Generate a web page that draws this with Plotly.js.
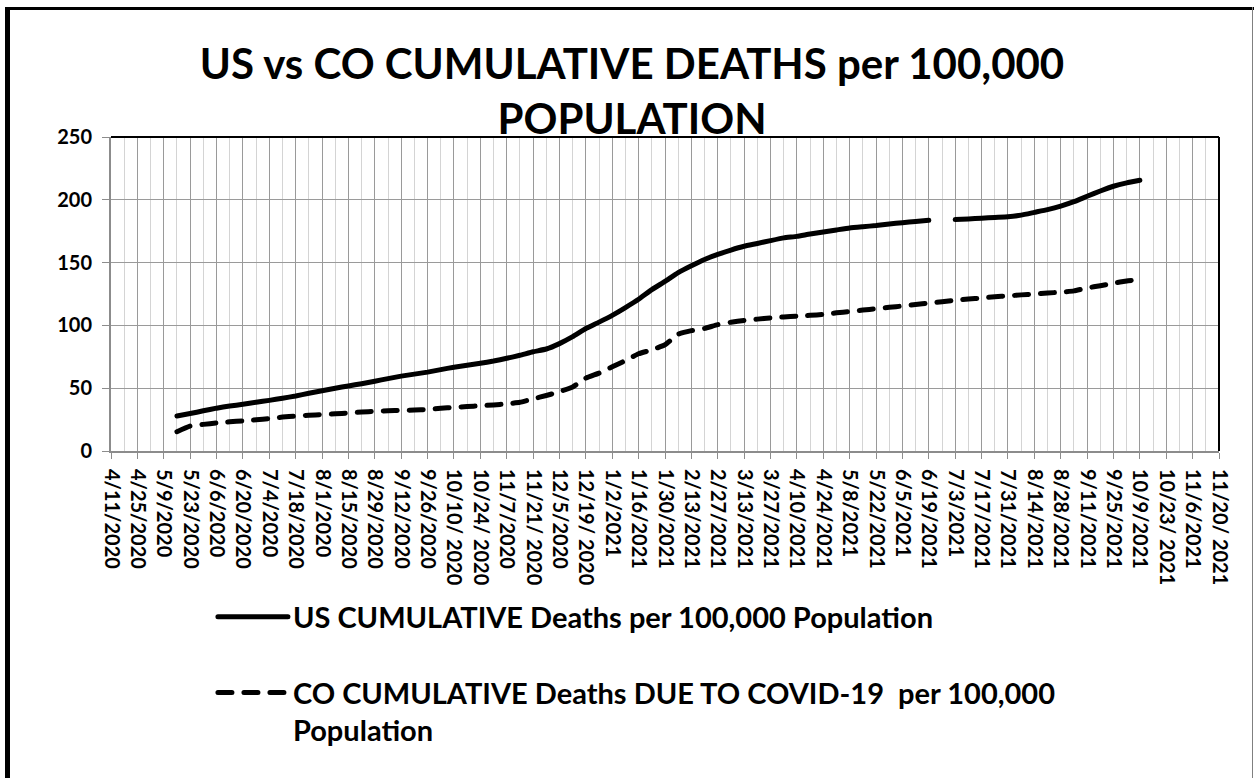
<!DOCTYPE html>
<html>
<head>
<meta charset="utf-8">
<script src="https://cdn.plot.ly/plotly-3.0.1.min.js"></script>
<style>
  html, body { margin: 0; padding: 0; background: #ffffff; overflow: hidden; }
  #wrap { position: relative; width: 1255px; height: 778px; }
  #chart { position: absolute; left: 0; top: 0; width: 1255px; height: 778px; }
  .frame { position: absolute; pointer-events: none; }
</style>
</head>
<body>
<div id="wrap">
  <div id="chart"></div>
  <div class="frame" style="left:5px; top:7px; width:5px; height:771px; background:#000;"></div>
  <div class="frame" style="left:5px; top:7px; width:1249px; height:3px; background:#000;"></div>
  <div class="frame" style="left:1252px; top:7px; width:1px; height:771px; background:#808080;"></div>
</div>
<script>
// ---- DATA ----
const usDates = [
  "2020-05-16","2020-05-23","2020-05-30","2020-06-06","2020-06-13","2020-06-20","2020-06-27",
  "2020-07-04","2020-07-11","2020-07-18","2020-07-25","2020-08-01","2020-08-08","2020-08-15",
  "2020-08-22","2020-08-29","2020-09-05","2020-09-12","2020-09-19","2020-09-26","2020-10-03",
  "2020-10-10","2020-10-17","2020-10-24","2020-10-31","2020-11-07","2020-11-14","2020-11-21",
  "2020-11-28","2020-12-05","2020-12-12","2020-12-19","2020-12-26","2021-01-02","2021-01-09",
  "2021-01-16","2021-01-23","2021-01-30","2021-02-06","2021-02-13","2021-02-20","2021-02-27",
  "2021-03-06","2021-03-13","2021-03-20","2021-03-27","2021-04-03","2021-04-10","2021-04-17",
  "2021-04-24","2021-05-01","2021-05-08","2021-05-15","2021-05-22","2021-05-29","2021-06-05",
  "2021-06-12","2021-06-19","2021-06-26","2021-07-03","2021-07-10","2021-07-17","2021-07-24",
  "2021-07-31","2021-08-07","2021-08-14","2021-08-21","2021-08-28","2021-09-04","2021-09-11",
  "2021-09-18","2021-09-25","2021-10-02","2021-10-09"
];
const usValues = [
  27.8, 29.8, 32.0, 34.1, 35.8, 37.2, 38.8,
  40.3, 42.0, 43.8, 46.0, 48.0, 50.0, 51.8,
  53.6, 55.6, 57.6, 59.6, 61.2, 62.8, 64.8,
  66.7, 68.2, 69.8, 71.6, 73.8, 76.2, 79.0,
  81.2, 85.5, 91.0, 97.5, 102.6, 108.0, 114.2,
  120.8, 128.5, 135.0, 142.0, 147.5, 152.5, 156.5,
  160.0, 163.0, 165.2, 167.5, 169.7, 170.9, 172.8,
  174.4, 176.0, 177.6, 178.6, 179.5, 180.8, 181.8,
  182.8, 183.7, null, 184.3, 184.8, 185.4, 186.0,
  186.5, 187.8, 190.0, 192.2, 195.0, 198.5, 202.8,
  207.0, 210.8, 213.5, 215.6
];
const coDates = [
  "2020-05-16","2020-05-23","2020-05-30","2020-06-06","2020-06-13","2020-06-20","2020-06-27",
  "2020-07-04","2020-07-11","2020-07-18","2020-07-25","2020-08-01","2020-08-08","2020-08-15",
  "2020-08-22","2020-08-29","2020-09-05","2020-09-12","2020-09-19","2020-09-26","2020-10-03",
  "2020-10-10","2020-10-17","2020-10-24","2020-10-31","2020-11-07","2020-11-14","2020-11-21",
  "2020-11-28","2020-12-05","2020-12-12","2020-12-19","2020-12-26","2021-01-02","2021-01-09",
  "2021-01-16","2021-01-23","2021-01-30","2021-02-06","2021-02-13","2021-02-20","2021-02-27",
  "2021-03-06","2021-03-13","2021-03-20","2021-03-27","2021-04-03","2021-04-10","2021-04-17",
  "2021-04-24","2021-05-01","2021-05-08","2021-05-15","2021-05-22","2021-05-29","2021-06-05",
  "2021-06-12","2021-06-19","2021-06-26","2021-07-03","2021-07-10","2021-07-17","2021-07-24",
  "2021-07-31","2021-08-07","2021-08-14","2021-08-21","2021-08-28","2021-09-04","2021-09-11",
  "2021-09-18","2021-09-25","2021-10-02","2021-10-05"
];
const coValues = [
  15.4, 19.9, 21.2, 22.3, 23.2, 24.0, 24.8,
  25.8, 27.0, 27.8, 28.5, 29.0, 29.6, 30.3,
  31.0, 31.6, 32.0, 32.3, 32.6, 33.0, 34.0,
  34.8, 35.4, 36.0, 36.7, 37.5, 38.8, 41.5,
  44.2, 47.2, 51.0, 58.0, 62.0, 67.0, 72.0,
  77.4, 80.5, 84.6, 93.0, 95.8, 97.6, 100.6,
  102.5, 104.0, 105.0, 106.0, 106.7, 107.4, 108.0,
  108.7, 110.0, 111.1, 112.2, 113.3, 114.4, 115.4,
  116.6, 117.8, 118.8, 120.0, 121.0, 121.8, 122.8,
  123.5, 124.3, 125.0, 125.8, 126.4, 127.5, 129.8,
  131.6, 133.6, 135.4, 135.9
];
const xTickLabels = [
  "4/11/2020","4/25/2020","5/9/2020","5/23/2020","6/6/2020","6/20/2020","7/4/2020",
  "7/18/2020","8/1/2020","8/15/2020","8/29/2020","9/12/2020","9/26/2020","10/10/ 2020",
  "10/24/ 2020","11/7/2020","11/21/ 2020","12/5/2020","12/19/ 2020","1/2/2021","1/16/2021",
  "1/30/2021","2/13/2021","2/27/2021","3/13/2021","3/27/2021","4/10/2021","4/24/2021",
  "5/8/2021","5/22/2021","6/5/2021","6/19/2021","7/3/2021","7/17/2021","7/31/2021",
  "8/14/2021","8/28/2021","9/11/2021","9/25/2021","10/9/2021","10/23/ 2021","11/6/2021",
  "11/20/ 2021"
];
const yTicks = [0, 50, 100, 150, 200, 250];
const seriesNames = [
  "US CUMULATIVE Deaths per 100,000 Population",
  "CO CUMULATIVE Deaths DUE TO COVID-19  per 100,000<br>Population"
];
const chartTitle = "US vs CO CUMULATIVE DEATHS per 100,000<br>POPULATION";

// ---- helpers ----
function labelToISO(lbl) {
  const p = lbl.replace(/\s/g, "").split("/");
  const mm = p[0].padStart(2, "0"), dd = p[1].padStart(2, "0");
  return p[2] + "-" + mm + "-" + dd;
}
const xTickVals = xTickLabels.map(labelToISO);

const FONT = "Lato, 'Open Sans', sans-serif";

const traces = [
  {
    type: "scatter", mode: "lines",
    x: usDates, y: usValues,
    name: seriesNames[0], legendgroup: "us",
    line: { color: "#000000", width: 5, shape: "spline", smoothing: 0.4 },
    connectgaps: false,
    hoverinfo: "x+y"
  },
  {
    type: "scatter", mode: "lines",
    x: coDates, y: coValues,
    name: seriesNames[1], legendgroup: "co",
    line: { color: "#000000", width: 5, dash: "14px,12px", shape: "spline", smoothing: 0.4 },
    hoverinfo: "x+y"
  }
];

const layout = {
  width: 1255, height: 778,
  paper_bgcolor: "#ffffff", plot_bgcolor: "#ffffff",
  margin: { l: 111, r: 36, t: 137, b: 327, pad: 0 },
  font: { family: FONT, color: "#000000" },
  title: {
    text: chartTitle,
    font: { family: FONT, size: 42, color: "#000000", weight: 700 },
    x: 632 / 1255, xanchor: "center", xref: "container",
    y: 1 - 79 / 778, yanchor: "top", yref: "container",
    automargin: false
  },
  showlegend: true,
  legend: {
    orientation: "v",
    x: 0.092, xanchor: "left",
    y: -0.447, yanchor: "top",
    font: { family: FONT, size: 29, color: "#000000", weight: 700 },
    bgcolor: "rgba(0,0,0,0)",
    tracegroupgap: 35,
    valign: "top",
    itemwidth: 70,
    traceorder: "grouped"
  },
  xaxis: {
    type: "date",
    range: ["2020-04-11", "2021-11-20"],
    tickmode: "array",
    tickvals: xTickVals,
    ticktext: xTickLabels,
    tickangle: 90,
    tickfont: { family: FONT, size: 20, color: "#000000", weight: 700 },
    ticks: "outside", ticklen: 6, tickcolor: "#8c8c8c", tickwidth: 1,
    ticklabelstandoff: 6,
    showgrid: true, gridcolor: "#9a9a9a", gridwidth: 1,
    minor: {
      tickmode: "linear",
      tick0: "2020-04-18",
      dtick: 7 * 86400000,
      showgrid: true, gridcolor: "#d4d4d4", gridwidth: 1,
      ticks: ""
    },
    showline: true, linecolor: "#8c8c8c", linewidth: 2,
    zeroline: false,
    fixedrange: true
  },
  yaxis: {
    range: [0, 250],
    tickmode: "array",
    tickvals: yTicks,
    ticktext: yTicks.map(String),
    tickfont: { family: FONT, size: 20, color: "#000000", weight: 700 },
    ticks: "outside", ticklen: 7, tickcolor: "#8c8c8c", tickwidth: 1,
    ticklabelstandoff: 6,
    showgrid: true, gridcolor: "#9a9a9a", gridwidth: 1,
    showline: true, linecolor: "#8c8c8c", linewidth: 2,
    zeroline: false,
    fixedrange: true
  },
  shapes: [
    { type: "line", xref: "paper", yref: "paper", x0: 0, x1: 1, y0: 1, y1: 1,
      line: { color: "#000000", width: 2 }, layer: "above" },
    { type: "line", xref: "paper", yref: "paper", x0: 1, x1: 1, y0: 0, y1: 1,
      line: { color: "#000000", width: 2 }, layer: "above" }
  ]
};

Plotly.newPlot("chart", traces, layout, { displayModeBar: false, staticPlot: true }).then(function () {
  document.querySelectorAll("#chart .scatterlayer path.js-line, #chart .legend path.js-line").forEach(function (p) {
    p.style.strokeLinecap = "round";
  });
});
</script>
</body>
</html>
